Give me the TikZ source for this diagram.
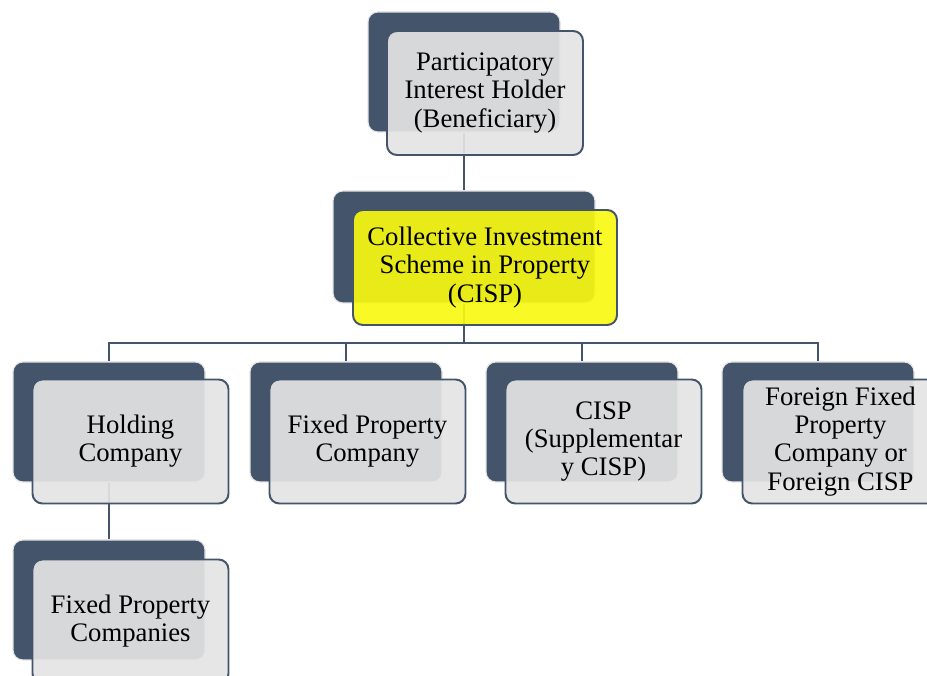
\documentclass[tikz,border=0pt]{standalone}
\usepackage{fontspec}
\setmainfont{Liberation Serif}
\usepackage{xcolor}
\usetikzlibrary{positioning}
\definecolor{slate}{HTML}{44546A}
\definecolor{paper}{HTML}{E4E4E4}
\definecolor{lemon}{HTML}{F8F812}

\begin{document}
\begin{tikzpicture}[
    backbox/.style={
        rectangle,
        rounded corners=7pt,
        minimum width=4.8cm,
        minimum height=3.0cm,
        draw=gray!20,
        line width=0.8pt,
        fill=slate
    },
    frontbox/.style={
        rectangle,
        rounded corners=7pt,
        minimum width=4.9cm,
        minimum height=3.1cm,
        align=center,
        draw=slate,
        line width=1.4pt,
        fill=paper,
        fill opacity=0.92,
        text opacity=1,
        font=\fontsize{19}{20}\selectfont
    },
    link/.style={draw=slate, line width=1.4pt}
]

\useasboundingbox (0,0) rectangle (23.175,16.9);

% Back plates
\node[backbox] (holderbk) at (11.6, 15.1) {};
\node[backbox, minimum width=6.55cm, minimum height=2.8cm] (cispbk) at (11.6, 10.725) {};
\node[backbox] (holdingbk) at (2.725, 6.35) {};
\node[backbox] (fixedbk) at (8.65, 6.35) {};
\node[backbox] (suppbk) at (14.55, 6.35) {};
\node[backbox] (foreignbk) at (20.45, 6.35) {};
\node[backbox] (fpcbk) at (2.725, 1.9) {};

% Connectors
\coordinate (bus) at (11.6, 8.325);
\draw[link] (holderbk.south) -- (cispbk.north);
\draw[link] (cispbk.south) -- (bus) -| (holdingbk.north);
\draw[link] (bus) -| (fixedbk.north);
\draw[link] (bus) -| (suppbk.north);
\draw[link] (bus) -| (foreignbk.north);
\draw[link] (holdingbk.south) -- (fpcbk.north);

% Front boxes
\node[frontbox] (holder) at (12.125, 14.575) {Participatory\\Interest Holder\\(Beneficiary)};
\node[frontbox, fill=lemon, minimum width=6.6cm, minimum height=2.875cm] (cisp) at (12.125, 10.2125) {Collective Investment\\Scheme in Property\\(CISP)};
\node[frontbox] (holding) at (3.2625, 5.8625) {Holding\\Company};
\node[frontbox] (fixed) at (9.1875, 5.8625) {Fixed Property\\Company};
\node[frontbox] (supp) at (15.0875, 5.8625) {CISP\\(Supplementar\\y CISP)};
\node[frontbox] (foreign) at (21.0125, 5.8625) {Foreign Fixed\\Property\\Company or\\Foreign CISP};
\node[frontbox] (fpc) at (3.2625, 1.3625) {Fixed Property\\Companies};

\end{tikzpicture}
\end{document}
